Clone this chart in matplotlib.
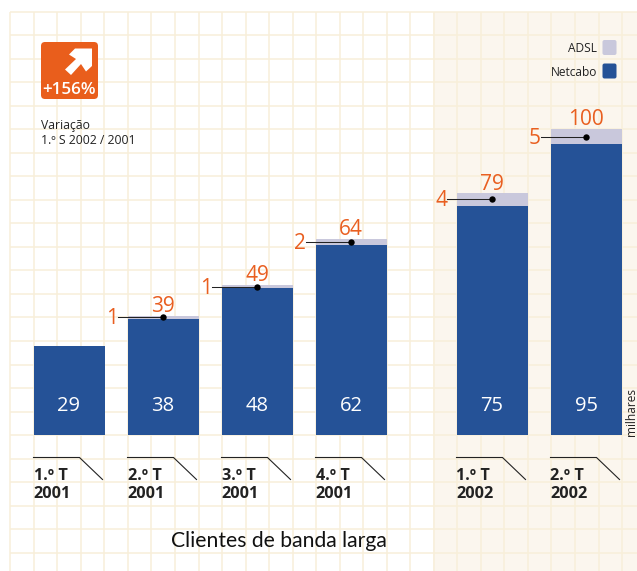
import matplotlib
matplotlib.use('Agg')
import matplotlib.pyplot as plt
from matplotlib.patches import Rectangle, FancyBboxPatch, Polygon
import numpy as np

# data
quarters = ['1.º T', '2.º T', '3.º T', '4.º T', '1.º T', '2.º T']
years = ['2001', '2001', '2001', '2001', '2002', '2002']
positions = [0, 1, 2, 3, 4.5, 5.5]
netcabo = [29, 38, 48, 62, 75, 95]
adsl = [0, 1, 1, 2, 4, 5]
totals = [None, 39, 49, 64, 79, 100]
BLUE = '#255297'; LILAC = '#C9C8DC'; ORANGE = '#E95F20'; TXT = '#222222'
W, H = 637, 571
plt.rcParams['font.family'] = ['Open Sans', 'DejaVu Sans']

fig = plt.figure(figsize=(W/100, H/100), dpi=100, facecolor='white')
bg = fig.add_axes([0, 0, 1, 1]); bg.set_xlim(0, W); bg.set_ylim(H, 0); bg.axis('off')
bg.add_patch(Rectangle((433, 12), W-433, H-12, fc='#FBF6EE', ec='none', zorder=0))
vx = 10.3 + 23.53*np.arange(27)
hy = 11.7 + 23.52*np.arange(24)
bg.vlines(vx, 11.7, H, color='#F8EFDA', lw=1.1, zorder=1)
bg.hlines(hy, 10.3, W, color='#F8EFDA', lw=1.1, zorder=1)

ax = fig.add_axes([0, (H-435)/H, 1, 306/H]); ax.patch.set_alpha(0)
ax.set_xlim(-69/94, (W-69)/94); ax.set_ylim(0, 100); ax.axis('off')
bw = 71/94
ax.bar(positions, netcabo, bw, color=BLUE, zorder=3)
ax.bar(positions, adsl, bw, bottom=netcabo, color=LILAC, zorder=3)

def px(p): return 69 + 94*p

for p, n, a, t, q, y in zip(positions, netcabo, adsl, totals, quarters, years):
    x = px(p)
    ax.text(p, 9.6, str(n), color='white', fontsize=14.5, ha='center', va='center', zorder=5)
    l = x - 35.5
    bg.plot([l, l+46, l+69], [457.5, 457.5, 479.5], color='#222222', lw=0.8, zorder=4, solid_joinstyle='miter')
    bg.text(l, 476.5, q, fontsize=11.7, fontweight='bold', color=TXT, ha='left', va='center', zorder=5)
    bg.text(l, 494.5, y, fontsize=11.7, fontweight='bold', color=TXT, ha='left', va='center', zorder=5)
    if t is not None:
        ym = n + a/2
        ax.plot([p-45/94, p], [ym, ym], color='#222222', lw=0.75, zorder=6)
        ax.plot([p], [ym], 'o', color='black', ms=4.6, mew=0, zorder=7)
        ax.text(p-51/94, ym-0.5, str(a), color=ORANGE, fontsize=15, ha='center', va='center', zorder=7)
        ax.text(p, t+3.0, str(t), color=ORANGE, fontsize=15, ha='center', va='center', zorder=7)

# badge
bg.add_patch(FancyBboxPatch((44, 45), 51, 51, boxstyle='round,pad=3,rounding_size=4', fc='#E95E1C', ec='none', zorder=4))
arrow = [(92, 48.5), (92, 66), (86, 71.5), (81, 64), (71, 75), (65, 69.5), (76, 59), (69, 54.5), (75, 48.5)]
bg.add_patch(Polygon(arrow, closed=True, fc='white', ec='none', zorder=5))
bg.text(69.5, 90, '+156%', color='white', fontsize=12.3, fontweight='semibold', ha='center', va='center', zorder=5)

bg.text(41, 125, 'Variação', fontsize=8.8, color=TXT, va='center', zorder=5)
bg.text(41, 141, '1.º S 2002 / 2001', fontsize=8.8, color=TXT, va='center', zorder=5)

# legend
for label, col, y in (('ADSL', LILAC, 47.5), ('Netcabo', BLUE, 71)):
    bg.add_patch(FancyBboxPatch((604, y-6), 11, 12, boxstyle='round,pad=1.5,rounding_size=2', fc=col, ec='none', zorder=4))
    bg.text(597, y+1, label, fontsize=8.6, color=TXT, ha='right', va='center', zorder=5)

bg.text(631, 412, 'milhares', rotation=90, fontsize=8.6, color=TXT, ha='center', va='center', zorder=5)
bg.text(278.5, 541, 'Clientes de banda larga', fontsize=15.2, family='Lato', color='#111111', ha='center', va='center', zorder=5)
fig.savefig('out.png', dpi=100)
